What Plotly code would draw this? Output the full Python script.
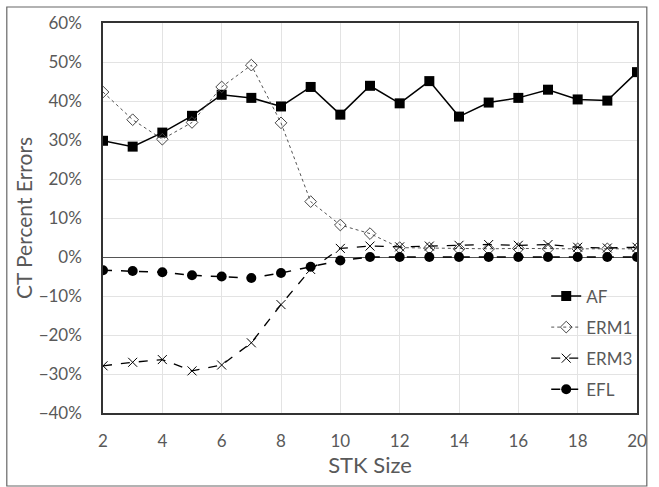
import plotly.graph_objects as go

stk = list(range(2, 21))
af = [29.8, 28.3, 31.9, 36.2, 41.6, 40.8, 38.6, 43.6, 36.5, 43.9, 39.4, 45.1, 36.0, 39.6, 40.8, 42.9, 40.4, 40.1, 47.4]
erm1 = [42.3, 35.2, 30.2, 34.5, 43.6, 49.2, 34.4, 14.2, 8.2, 6.0, 2.4, 2.3, 2.1, 2.1, 2.2, 2.1, 2.1, 2.1, 2.1]
erm3 = [-27.9, -27.0, -26.3, -29.2, -27.7, -22.0, -12.2, -3.2, 2.2, 2.8, 2.6, 2.8, 3.0, 3.2, 3.0, 3.2, 2.5, 2.3, 2.5]
efl = [-3.4, -3.6, -3.9, -4.7, -5.0, -5.4, -4.1, -2.5, -0.9, 0.0, 0.0, 0.0, 0.0, 0.0, 0.0, 0.0, 0.0, 0.0, 0.0]

fig = go.Figure()
fig.add_trace(go.Scatter(x=stk, y=af, name="AF", mode="lines+markers", legendgroup="a",
                         line=dict(color="black", width=1.5),
                         marker=dict(symbol="square", size=10, color="black")))
fig.add_trace(go.Scatter(x=stk, y=erm1, name="ERM1", mode="lines+markers", legendgroup="b",
                         line=dict(color="#555555", width=1, dash="dot"),
                         marker=dict(symbol="diamond-open", size=9, color="#444444", line=dict(width=1))))
fig.add_trace(go.Scatter(x=stk, y=erm3, name="ERM3", mode="lines+markers", legendgroup="c",
                         line=dict(color="black", width=1.3, dash="dash"),
                         marker=dict(symbol="x-thin-open", size=9, color="black", line=dict(width=1, color="black"))))
fig.add_trace(go.Scatter(x=stk, y=efl, name="EFL", mode="lines+markers", legendgroup="d",
                         line=dict(color="black", width=1.5, dash="dash"),
                         marker=dict(symbol="circle", size=10, color="black")))

font_family = "Lato, Open Sans, sans-serif"
fig.update_layout(
    width=659, height=487,
    margin=dict(l=103, r=12, t=23, b=74),
    plot_bgcolor="white", paper_bgcolor="white",
    font=dict(family=font_family, color="#595959", size=17),
    showlegend=True,
    legend=dict(x=0.83, y=0.345, xanchor="left", yanchor="top",
                bgcolor="rgba(0,0,0,0)", font=dict(size=17, color="#595959"),
                itemwidth=30, tracegroupgap=6),
    xaxis=dict(range=[2, 20], dtick=2, tick0=2, showgrid=True, gridcolor="#e3e3e3",
               showline=True, linecolor="#333333", linewidth=1.5, mirror=True,
               ticks="", zeroline=False, ticklabelstandoff=12,
               title=dict(text="STK Size", font=dict(size=22, color="#595959"), standoff=4),
               tickfont=dict(size=17, color="#595959")),
    yaxis=dict(range=[-40, 60], dtick=10, ticksuffix="%", showgrid=True, gridcolor="#e3e3e3",
               showline=True, linecolor="#333333", linewidth=1.5, mirror=True,
               zeroline=True, zerolinecolor="#555555", zerolinewidth=1.2,
               ticks="", ticklabelstandoff=16,
               title=dict(text="CT Percent Errors", font=dict(size=21, color="#595959"), standoff=0),
               tickfont=dict(size=17, color="#595959")),
)
fig.add_shape(type="rect", xref="paper", yref="paper",
              x0=(5 - 103) / 544, x1=(657 - 103) / 544,
              y0=(413 - 486) / 390, y1=(413 - 7) / 390,
              line=dict(color="#666666", width=1.2), layer="below")

fig.write_html("out.html")
